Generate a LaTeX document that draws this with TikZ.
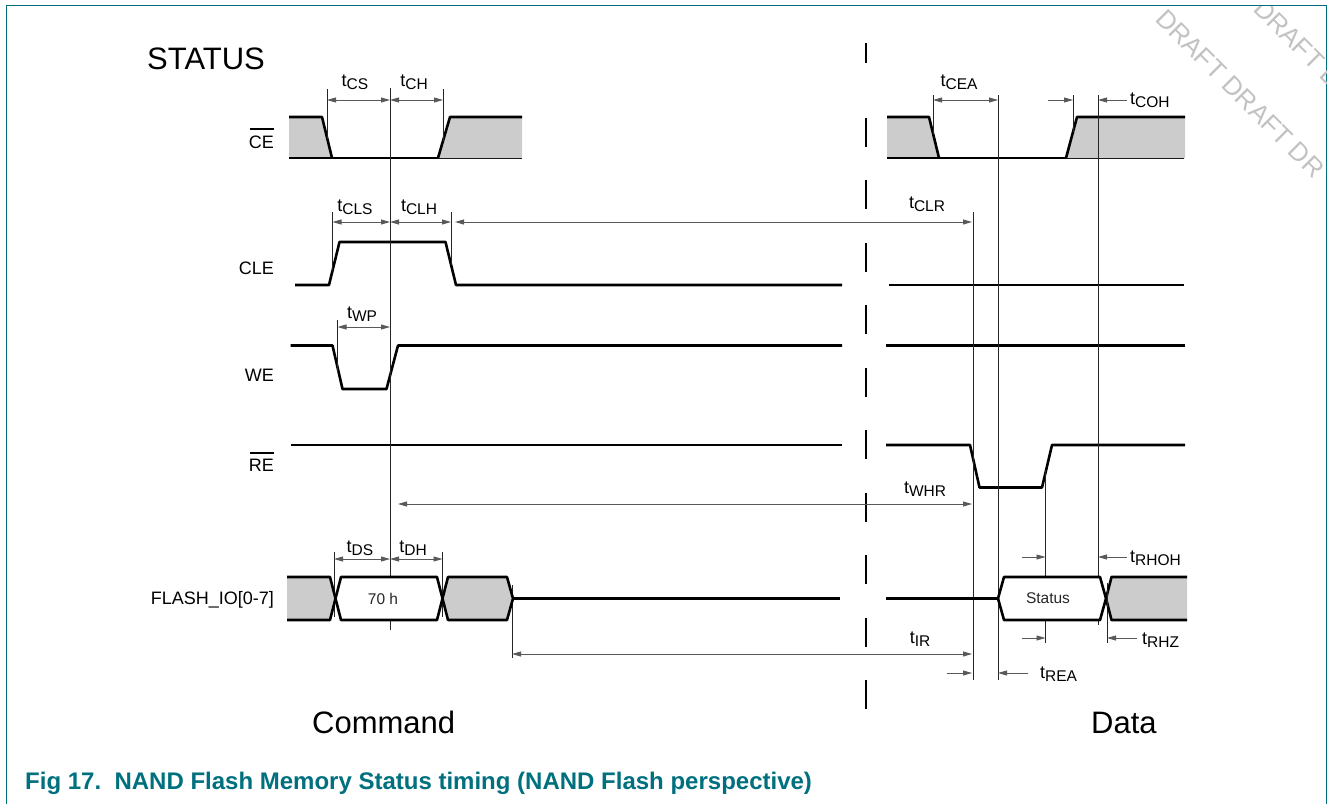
\documentclass[tikz,border=0pt]{standalone}
\usepackage{fontspec}
\setmainfont{Liberation Sans}
\usetikzlibrary{arrows.meta}
\definecolor{nxpteal}{RGB}{0,112,127}
\definecolor{wavegray}{RGB}{204,204,204}
\newcommand\tlab[1]{t\raisebox{-3pt}{\fontsize{15.5}{16}\selectfont #1}}
\tikzset{
  sig/.style={line width=2.6pt, line join=round, draw=black},
  gfill/.style={fill=wavegray},
  refl/.style={line width=0.8pt, draw=black!85},
  tipa/.tip={Triangle[length=9pt,width=5pt]},
  dim/.style={line width=0.8pt, draw=black!65, tipa-tipa},
  dimr/.style={line width=0.8pt, draw=black!65, -tipa},
  slab/.style={anchor=base east, inner sep=0pt, font=\fontsize{18}{18}\selectfont},
  tl/.style={anchor=base, inner sep=0pt, font=\fontsize{18}{18}\selectfont},
  tlw/.style={anchor=base west, inner sep=0pt, font=\fontsize{18}{18}\selectfont},
  big/.style={anchor=base west, inner sep=0pt, font=\fontsize{31}{31}\selectfont},
  boxtxt/.style={inner sep=0pt, text=black!85, font=\fontsize{15.5}{16}\selectfont},
  wmark/.style={rotate=-45, anchor=base west, inner sep=0pt, text=black!24, font=\fontsize{26}{26}\selectfont},
}
\begin{document}
\begin{tikzpicture}[x=1pt,y=-1pt]
\useasboundingbox (0,0) rectangle (1330,803);
% frame
\draw[nxpteal, line width=1.5pt] (6.3,810) -- (6.3,5.3) -- (1326.7,5.3) -- (1326.7,810);
% watermark
\begin{scope}
\clip (7,6) rectangle (1326,803);
\node[wmark] (wm1) at (1154,20) {DRAFT DRAFT DR};
\node[wmark] (wm2) at (1252,10) {DRAFT D};
\end{scope}
% titles
\node[big] (status) at (147,69) {STATUS};
\node[big] (command) at (312,733) {Command};
\node[big] (data) at (1091,733) {Data};
\node[anchor=base west, inner sep=0pt, text=nxpteal, font=\fontsize{24}{24}\selectfont\bfseries] (caption) at (25,789)
  {Fig 17.\ \ NAND Flash Memory Status timing (NAND Flash perspective)};
% signal names
\node[slab] (ce) at (274,148.5) {CE};
\draw[line width=1.1pt] (250,129) -- (273.5,129);
\node[slab] (cle) at (274,274.5) {CLE};
\node[slab] (we) at (274,381.5) {WE};
\node[slab] (re) at (274,471.5) {RE};
\draw[line width=1.1pt] (250,453) -- (273.5,453);
\node[slab] (io) at (274,604.5) {FLASH\_IO[0-7]};
% dashed separator
\draw[line width=1.6pt] (866,43) -- (866,63);
\draw[line width=1.6pt, dash pattern=on 29pt off 33.5pt] (866,117.5) -- (866,715);
% ---- CE ----
\fill[gfill] (289,117) -- (322,117) -- (332,158) -- (289,158) -- cycle;
\draw[sig] (289,117) -- (322,117) -- (332,158);
\draw[sig] (289,158) -- (522,158);
\fill[gfill] (438,158) -- (450,117) -- (522,117) -- (522,158) -- cycle;
\draw[sig] (438,158) -- (450,117) -- (522,117);
\fill[gfill] (887,117) -- (929,117) -- (939,158) -- (887,158) -- cycle;
\draw[sig] (887,117) -- (929,117) -- (939,158);
\draw[sig] (887,158) -- (1184,158);
\fill[gfill] (1066,158) -- (1077,117) -- (1185,117) -- (1185,158) -- cycle;
\draw[sig] (1066,158) -- (1077,117) -- (1185,117);
% ---- CLE ----
\draw[sig] (295,285) -- (329,285) -- (339.5,242) -- (445.5,242) -- (456,285) -- (842,285);
\draw[sig] (889,285) -- (1184,285);
% ---- WE ----
\draw[sig] (290.5,345.5) -- (332.5,345.5) -- (342.5,389) -- (386.5,389) -- (398,345.5) -- (842,345.5);
\draw[sig] (886,345.5) -- (1185,345.5);
% ---- RE ----
\draw[sig] (291,445) -- (842,445);
\draw[sig] (886,445) -- (970,445) -- (979.5,487.5) -- (1042,487.5) -- (1052,445) -- (1185,445);
% ---- reference lines ----
\draw[refl] (327,89) -- (327,139);
\draw[refl] (390,88) -- (390,630);
\draw[refl] (443,89) -- (443,141);
\draw[refl] (933,95) -- (933,134);
\draw[refl] (998,95) -- (998,680);
\draw[refl] (1073,95) -- (1073,132);
\draw[refl] (1098,95) -- (1098,625);
\draw[refl] (332.5,212) -- (332.5,271);
\draw[refl] (451,212) -- (451,265);
\draw[refl] (337.5,320) -- (337.5,372);
\draw[refl] (973,212) -- (973,680);
\draw[refl] (1045.5,470) -- (1045.5,643);
\draw[refl] (334,552) -- (334,617);
\draw[refl] (442.5,552) -- (442.5,617);
\draw[refl] (512,585) -- (512,658);
\draw[refl] (1107,583) -- (1107,643);
% ---- FLASH_IO ----
\fill[gfill] (287,577) -- (330,577) -- (335.5,598.5) -- (330,620) -- (287,620) -- cycle;
\draw[sig] (287,577) -- (330,577) -- (335.5,598.5) -- (330,620) -- (287,620);
\draw[sig, fill=white] (335.5,598.5) -- (341,577) -- (437,577) -- (442.5,598.5) -- (437,620) -- (341,620) -- cycle;
\draw[sig, gfill] (442.5,598.5) -- (448,577) -- (507,577) -- (513,598.5) -- (507,620) -- (448,620) -- cycle;
\draw[sig] (513,598.5) -- (840,598.5);
\draw[sig] (886,598.5) -- (998,598.5);
\draw[sig, fill=white] (998,598.5) -- (1004,577) -- (1100,577) -- (1106,598.5) -- (1100,620) -- (1004,620) -- cycle;
\fill[gfill] (1106,598.5) -- (1111.5,577) -- (1187,577) -- (1187,620) -- (1111.5,620) -- cycle;
\draw[sig] (1187,577) -- (1111.5,577) -- (1106,598.5) -- (1111.5,620) -- (1187,620);
\draw[refl] (1107,590) -- (1107,607);
\node[boxtxt] (cmd70) at (383,598.5) {70 h};
\node[boxtxt] (stat) at (1048,598.5) {Status};
% ---- dimension arrows ----
\draw[dim] (327,100) -- (390,100);
\draw[dim] (390,100) -- (443,100);
\draw[dim] (933,100) -- (998,100);
\draw[dimr] (1048,100) -- (1073,100);
\draw[dimr] (1127,100) -- (1098,100);
\draw[dim] (332.5,222) -- (390,222);
\draw[dim] (390,222) -- (451,222);
\draw[dim] (455,222) -- (972,222);
\draw[dim] (337.5,327) -- (390,327);
\draw[dim] (398,504) -- (972,504);
\draw[dim] (334,559) -- (390,559);
\draw[dim] (390,559) -- (442.5,559);
\draw[dim] (512,654) -- (972,654);
\draw[dimr] (947,673) -- (972,673);
\draw[dimr] (1028,673) -- (998,673);
\draw[dimr] (1022,557) -- (1045.5,557);
\draw[dimr] (1127,557) -- (1098,557);
\draw[dimr] (1022,638) -- (1045.5,638);
\draw[dimr] (1137,638) -- (1107,638);
% ---- timing labels ----
\node[tl] (tcs) at (355,86) {\tlab{CS}};
\node[tl] (tch) at (414,86) {\tlab{CH}};
\node[tl] (tcea) at (959,86) {\tlab{CEA}};
\node[tlw] (tcoh) at (1130,104) {\tlab{COH}};
\node[tl] (tcls) at (355,211) {\tlab{CLS}};
\node[tl] (tclh) at (419,211) {\tlab{CLH}};
\node[tl] (tclr) at (927,208) {\tlab{CLR}};
\node[tl] (twp) at (362,318) {\tlab{WP}};
\node[tl] (twhr) at (925,493) {\tlab{WHR}};
\node[tl] (tds) at (360,552) {\tlab{DS}};
\node[tl] (tdh) at (413,552) {\tlab{DH}};
\node[tl] (tir) at (920,643) {\tlab{IR}};
\node[tlw] (trea) at (1040,678) {\tlab{REA}};
\node[tlw] (trhoh) at (1130,562) {\tlab{RHOH}};
\node[tlw] (trhz) at (1142,644) {\tlab{RHZ}};
\end{tikzpicture}
\end{document}
